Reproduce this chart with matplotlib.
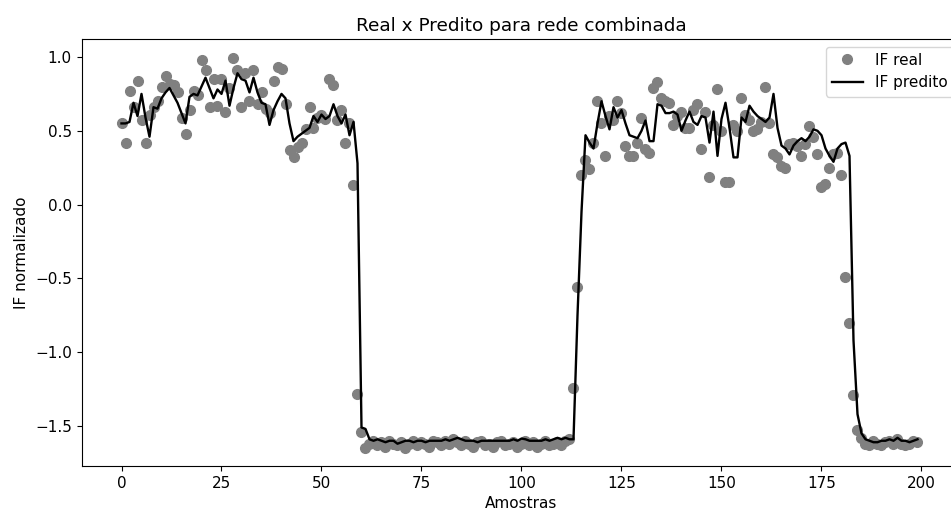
import matplotlib
matplotlib.use("Agg")
import matplotlib.pyplot as plt
import numpy as np

# IF real (pontos)
real_high1 = [0.55, 0.42, 0.77, 0.66, 0.84, 0.57, 0.42, 0.61, 0.66, 0.70,
              0.80, 0.87, 0.82, 0.81, 0.76, 0.59, 0.48, 0.64, 0.77, 0.74,
              0.98, 0.91, 0.66, 0.85, 0.67, 0.85, 0.63, 0.79, 0.99, 0.91,
              0.66, 0.89, 0.70, 0.91, 0.68, 0.76, 0.65, 0.62, 0.84, 0.93,
              0.92, 0.68, 0.37, 0.32, 0.39, 0.42, 0.51, 0.66, 0.52, 0.59,
              0.61, 0.58, 0.85, 0.81, 0.57, 0.64, 0.42, 0.55, 0.13, -1.28]
real_low1 = [-1.54, -1.65, -1.62, -1.60, -1.63, -1.61, -1.64, -1.60, -1.62, -1.63,
             -1.61, -1.65, -1.62, -1.60, -1.63, -1.61, -1.62, -1.64, -1.60, -1.61,
             -1.63, -1.60, -1.62, -1.59, -1.61, -1.63, -1.60, -1.62, -1.64, -1.61,
             -1.60, -1.63, -1.62, -1.64, -1.61, -1.60, -1.63, -1.62, -1.61, -1.64,
             -1.62, -1.60, -1.63, -1.61, -1.64, -1.62, -1.60, -1.63, -1.62, -1.61,
             -1.63, -1.60, -1.59, -1.24]
real_high2 = [-0.56, 0.20, 0.30, 0.24, 0.42, 0.70, 0.55, 0.33, 0.60, 0.57,
              0.70, 0.62, 0.40, 0.33, 0.33, 0.42, 0.59, 0.38, 0.35, 0.79,
              0.83, 0.72, 0.70, 0.69, 0.54, 0.60, 0.63, 0.52, 0.52, 0.64,
              0.68, 0.38, 0.63, 0.19, 0.54, 0.78, 0.50, 0.15, 0.15, 0.54,
              0.50, 0.72, 0.61, 0.57, 0.50, 0.51, 0.56, 0.80, 0.55, 0.34,
              0.32, 0.26, 0.25, 0.41, 0.42, 0.40, 0.33, 0.41, 0.53, 0.46,
              0.34, 0.12, 0.14, 0.25, 0.34, 0.35, 0.20, -0.49, -0.80, -1.29,
              -1.53]
real_low2 = [-1.58, -1.62, -1.63, -1.60, -1.62, -1.63, -1.61, -1.60, -1.62, -1.59,
             -1.62, -1.63, -1.62, -1.60, -1.61]

# IF predito (linha)
pred_high1 = [0.55, 0.55, 0.56, 0.69, 0.60, 0.75, 0.59, 0.46, 0.66, 0.65,
              0.72, 0.76, 0.79, 0.74, 0.69, 0.62, 0.55, 0.73, 0.75, 0.74,
              0.80, 0.86, 0.79, 0.72, 0.78, 0.75, 0.84, 0.67, 0.79, 0.89,
              0.85, 0.84, 0.76, 0.86, 0.76, 0.69, 0.68, 0.54, 0.64, 0.70,
              0.75, 0.72, 0.55, 0.43, 0.46, 0.48, 0.50, 0.52, 0.60, 0.56,
              0.61, 0.58, 0.60, 0.68, 0.60, 0.55, 0.61, 0.47, 0.56, 0.28]
pred_low1 = [-1.51, -1.52, -1.59, -1.60, -1.59, -1.60, -1.61, -1.60, -1.60, -1.62,
             -1.61, -1.60, -1.60, -1.61, -1.60, -1.60, -1.61, -1.60, -1.60, -1.60,
             -1.60, -1.59, -1.60, -1.59, -1.58, -1.59, -1.60, -1.60, -1.60, -1.61,
             -1.60, -1.60, -1.60, -1.60, -1.60, -1.60, -1.60, -1.60, -1.59, -1.60,
             -1.585, -1.59, -1.60, -1.60, -1.60, -1.60, -1.59, -1.60, -1.59, -1.58,
             -1.59, -1.58, -1.59, -1.59]
pred_high2 = [-0.75, -0.05, 0.47, 0.42, 0.38, 0.55, 0.70, 0.60, 0.51, 0.66,
              0.59, 0.64, 0.55, 0.47, 0.46, 0.45, 0.50, 0.57, 0.43, 0.43,
              0.68, 0.67, 0.62, 0.62, 0.63, 0.61, 0.50, 0.57, 0.63, 0.56,
              0.54, 0.60, 0.59, 0.42, 0.63, 0.33, 0.58, 0.69, 0.52, 0.32,
              0.32, 0.59, 0.56, 0.67, 0.63, 0.60, 0.58, 0.56, 0.59, 0.75,
              0.52, 0.40, 0.38, 0.34, 0.40, 0.43, 0.45, 0.43, 0.46, 0.51,
              0.50, 0.47, 0.38, 0.33, 0.29, 0.38, 0.41, 0.42, 0.33, -0.92]
pred_low2 = [-1.42, -1.55, -1.59, -1.60, -1.61, -1.61, -1.60, -1.60, -1.59, -1.60,
             -1.58, -1.60, -1.60, -1.61, -1.60, -1.59, -1.59]

if_real = np.array(real_high1 + real_low1 + real_high2 + real_low2)
if_pred = np.array(pred_high1 + pred_low1 + pred_high2 + pred_low2)[:len(if_real)]
amostras = np.arange(len(if_real))

plt.rcParams["font.size"] = 11

W, H = 951, 514
fig = plt.figure(figsize=(W / 100, H / 100), dpi=100)
# eixo se estende além da borda direita (figura cortada como no original)
ax = fig.add_axes([81.5 / W, 1 - 466 / H, (961.5 - 81.5) / W, (466 - 39) / H])

ax.plot(amostras, if_real, "o", color="gray", markersize=7, label="IF real")
ax.plot(amostras, if_pred, "-", color="black", linewidth=1.7, label="IF predito")

ax.set_xlim(-10, 210)
ax.set_ylim(-1.771, 1.122)
ax.set_title("Real x Predito para rede combinada", fontsize=13.3)
ax.set_xlabel("Amostras")
ax.set_ylabel("IF normalizado")
ax.legend(loc="upper right")

fig.savefig("out.png", dpi=100)
